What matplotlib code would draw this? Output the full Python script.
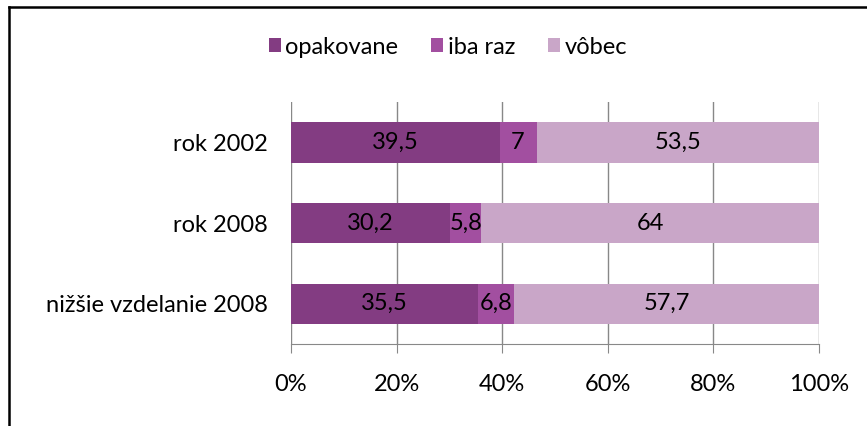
import matplotlib
matplotlib.use("Agg")
import matplotlib.pyplot as plt
from matplotlib.lines import Line2D
from matplotlib.ticker import FuncFormatter

plt.rcParams["font.family"] = ["Lato", "DejaVu Sans"]

categories = ["rok 2002", "rok 2008", "nižšie vzdelanie 2008"]
series_names = ["opakovane", "iba raz", "vôbec"]
opakovane = [39.5, 30.2, 35.5]
iba_raz = [7.0, 5.8, 6.8]
vobec = [53.5, 64.0, 57.7]
labels = [["39,5", "30,2", "35,5"], ["7", "5,8", "6,8"], ["53,5", "64", "57,7"]]
colors = ["#833C82", "#A24FA0", "#C9A6C8"]
xticks = [0, 20, 40, 60, 80, 100]

FS = 17

W, H = 867, 426
fig = plt.figure(figsize=(W / 100, H / 100), dpi=100)
ax = fig.add_axes([291 / W, 1 - 344 / H, (819 - 291) / W, (344 - 102) / H])

ypos = list(range(len(categories)))
left = [0.0] * len(categories)
for vals, name, col, labs in zip([opakovane, iba_raz, vobec], series_names, colors, labels):
    bars = ax.barh(ypos, vals, left=left, height=0.5, color=col, label=name, zorder=3)
    ax.bar_label(bars, labels=labs, label_type="center", fontsize=FS, color="black")
    left = [l + v for l, v in zip(left, vals)]

ax.set_xlim(0, 100)
ax.set_ylim(2.5, -0.5)
ax.set_yticks(ypos)
ax.set_yticklabels(categories, fontsize=FS)
ax.set_xticks(xticks)
ax.xaxis.set_major_formatter(FuncFormatter(lambda v, p: f"{int(v)}%"))
ax.tick_params(axis="x", labelsize=FS, length=6.5, color="#888888", pad=15, direction="out")
ax.tick_params(axis="y", length=0, pad=17)
ax.grid(axis="x", color="#888888", linewidth=1, zorder=0)
for s in ["top", "right", "left"]:
    ax.spines[s].set_visible(False)
ax.spines["bottom"].set_color("#888888")

ax.legend(loc="center", bbox_to_anchor=(448 / W, 1 - 47 / H), bbox_transform=fig.transFigure,
          ncol=3, frameon=False, fontsize=FS, handlelength=0.5, handleheight=0.5,
          handletextpad=0.2, columnspacing=1.4)

# chart frame (left and top edges visible)
fig.add_artist(Line2D([9 / W, 9 / W], [0, 1 - 7 / H], color="black", linewidth=1.8,
                      transform=fig.transFigure))
fig.add_artist(Line2D([9 / W, 1], [1 - 7 / H, 1 - 7 / H], color="black", linewidth=1.8,
                      transform=fig.transFigure))

fig.savefig("out.png", dpi=100)
